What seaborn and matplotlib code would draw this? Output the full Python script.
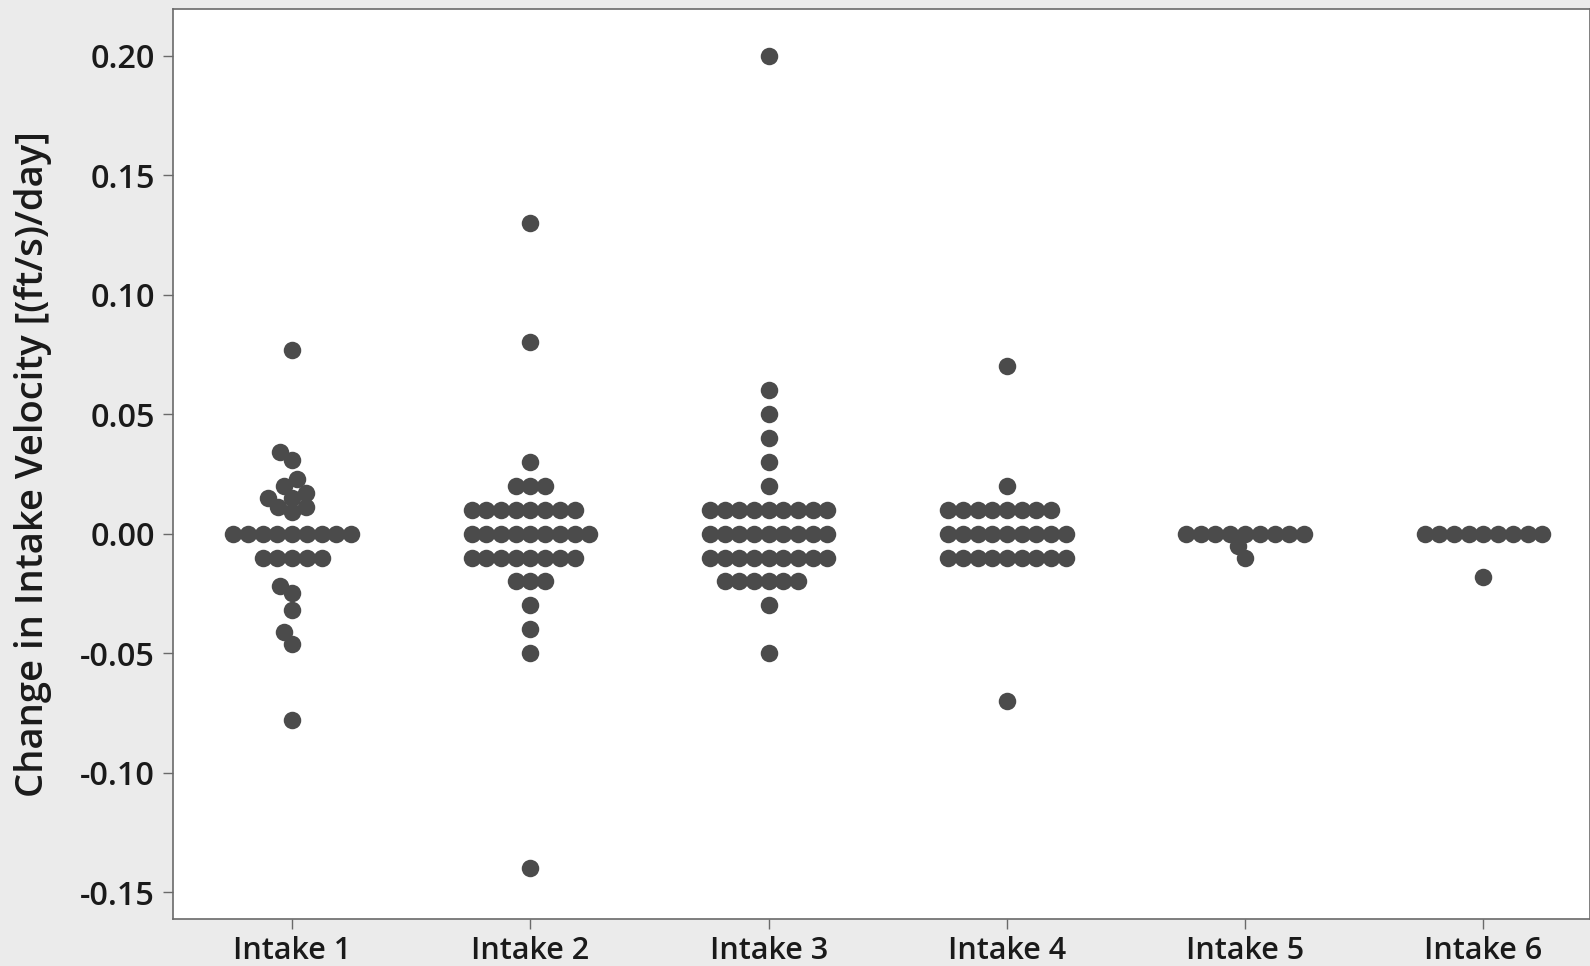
import warnings
import numpy as np
import pandas as pd
import matplotlib
matplotlib.use("Agg")
import matplotlib.pyplot as plt
from matplotlib.ticker import FixedLocator, FormatStrFormatter
import seaborn as sns

warnings.filterwarnings("ignore")

# ---------------- data ----------------
categories = ["Intake 1", "Intake 2", "Intake 3", "Intake 4", "Intake 5", "Intake 6"]

intake1 = [0.077, 0.034, 0.031, 0.023, 0.020, 0.017, 0.015, 0.015, 0.011, 0.011, 0.009] + \
          [0.0] * 9 + [-0.010] * 5 + \
          [-0.022, -0.025, -0.032, -0.041, -0.046, -0.078]
intake2 = [0.13, 0.08, 0.03, 0.02, 0.02, 0.02] + [0.01] * 8 + [0.0] * 9 + [-0.01] * 8 + \
          [-0.02, -0.02, -0.02, -0.03, -0.04, -0.05, -0.14]
intake3 = [0.20, 0.06, 0.05, 0.04, 0.03, 0.02] + [0.01] * 9 + [0.0] * 9 + [-0.01] * 9 + \
          [-0.02] * 6 + [-0.03, -0.05]
intake4 = [0.07, 0.02] + [0.01] * 8 + [0.0] * 9 + [-0.01] * 9 + [-0.07]
intake5 = [0.0] * 9 + [-0.005, -0.010]
intake6 = [0.0] * 9 + [-0.018]

y_ticks = [-0.15, -0.10, -0.05, 0.00, 0.05, 0.10, 0.15, 0.20]
y_label = "Change in Intake Velocity [(ft/s)/day]"

series = [intake1, intake2, intake3, intake4, intake5, intake6]
df = pd.DataFrame({
    "Intake": [c for c, vals in zip(categories, series) for _ in vals],
    "Change": [v for vals in series for v in vals],
})

# ---------------- style ----------------
sns.set_theme(style="ticks")
plt.rcParams['font.family'] = ['Open Sans', 'DejaVu Sans']
plt.rcParams['font.weight'] = 'semibold'
plt.rcParams['axes.labelweight'] = 'semibold'
plt.rcParams['axes.unicode_minus'] = False

W, H = 1590, 966
fig = plt.figure(figsize=(W / 100, H / 100), dpi=100, facecolor="#ebebeb")
ax = fig.add_axes([173 / W, 47 / H, 1 - 173 / W, 910 / H])
ax.set_facecolor("white")

dot_color = "#4b4b4b"
layout_size = 10.08   # points: spacing used by the swarm layout (~14 px)
drawn_size = 12.6     # points: visible marker diameter (~17.5 px), so dots overlap slightly
sns.swarmplot(data=df, x="Intake", y="Change", order=categories, color=dot_color,
              size=layout_size, linewidth=0, ax=ax)

ax.set_xlim(-0.5, 5.447)
ax.set_ylim(-0.1612, 0.2195)
ax.yaxis.set_major_locator(FixedLocator(y_ticks))
ax.yaxis.set_major_formatter(FormatStrFormatter("%.2f"))

for side in ["left", "bottom", "top", "right"]:
    ax.spines[side].set_visible(True)
    ax.spines[side].set_color("#6a6a6a")
    ax.spines[side].set_linewidth(1.2)

ax.tick_params(axis="both", direction="out", length=7.2, width=1, color="#6a6a6a",
               labelcolor="#1a1a1a")
ax.tick_params(axis="y", pad=5.8, labelsize=23.3)
ax.tick_params(axis="x", pad=5, labelsize=22)
ax.set_xlabel("")
ax.set_ylabel(y_label, fontsize=27.5, color="#1a1a1a", labelpad=20, fontweight="semibold")

# run the swarm layout once, then freeze it and enlarge the drawn markers
fig.canvas.draw()
for coll in ax.collections:
    if "draw" in coll.__dict__:
        del coll.__dict__["draw"]
    coll.set_sizes([drawn_size ** 2])

fig.savefig("out.png", dpi=100, facecolor=fig.get_facecolor())
